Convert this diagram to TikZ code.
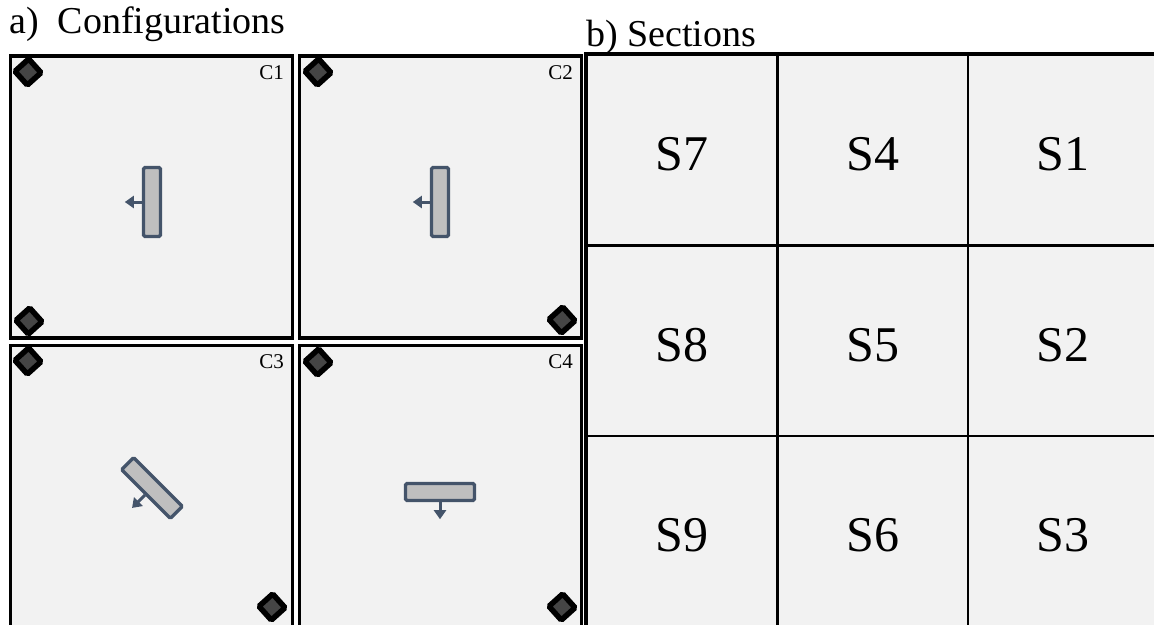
\documentclass[tikz,border=0pt]{standalone}
\usepackage{fontspec}
\setmainfont{Liberation Serif}
\usetikzlibrary{arrows.meta,calc}
\definecolor{panelfill}{HTML}{F2F2F2}
\definecolor{devedge}{HTML}{44546A}
\definecolor{devfill}{HTML}{BFBFBF}
\definecolor{camfill}{HTML}{454545}
\begin{document}
\begin{tikzpicture}[x=1pt,y=-1pt,
  panel/.style={draw=black, line width=3.2pt, fill=panelfill, minimum width=282pt, minimum height=282pt, inner sep=0pt, outer sep=0pt},
  cam/.style={draw=black, fill=camfill, line width=5.5pt, minimum size=18.5pt, rotate=42, inner sep=0pt, rounded corners=1.5pt},
  dev/.style={draw=devedge, fill=devfill, line width=3.4pt, inner sep=0pt, rounded corners=1.5pt},
  devv/.style={dev, minimum width=17pt, minimum height=69pt},
  devh/.style={dev, minimum width=69pt, minimum height=17pt},
  arr/.style={draw=devedge, line width=3pt, -{Triangle[width=12pt,length=9pt]}},
  clabel/.style={font=\fontsize{21}{21}\selectfont, anchor=east, inner sep=0pt},
  cell/.style={draw=black, line width=2.5pt, fill=panelfill, minimum size=190.5pt, inner sep=0pt},
  slabel/.style={font=\fontsize{50}{50}\selectfont, inner sep=0pt, yshift=-4pt},
  title/.style={font=\fontsize{38}{38}\selectfont, anchor=base west, inner sep=0pt}]
\useasboundingbox (0,0) rectangle (1154,624);
\clip (0,0) rectangle (1154,624);
\fill[white] (0,0) rectangle (1154,624);

% titles
\node[title] (ta) at (9,33) {a)\hspace{0.5em}Configurations};
\node[title] (tb) at (586,46) {b) Sections};

% configuration panels
\node[panel] (c1) at (151.5,197) {};
\node[panel] (c2) at (440.5,197) {};
\node[panel] (c3) at (151.5,486.5) {};
\node[panel] (c4) at (440.5,486.5) {};

\node[clabel] (l1) at (284,73) {C1};
\node[clabel] (l2) at (573,73) {C2};
\node[clabel] (l3) at (284,362) {C3};
\node[clabel] (l4) at (573,362) {C4};

% cameras
\node[cam] (k1a) at (28,72) {};
\node[cam] (k1b) at (29,321) {};
\node[cam] (k2a) at (318,72) {};
\node[cam] (k2b) at (562,320) {};
\node[cam] (k3a) at (28,361) {};
\node[cam] (k3b) at (272,607) {};
\node[cam] (k4a) at (318,362) {};
\node[cam] (k4b) at (562,607) {};

% devices
\node[devv] (d1) at (152,202) {};
\node[devv] (d2) at (440,202) {};
\node[devh, rotate=-45] (d3) at (152,488) {};
\node[devh] (d4) at (440,492) {};

\coordinate (a1) at ($(d1.west)!-17pt!(d1.center)$);
\coordinate (a2) at ($(d2.west)!-17pt!(d2.center)$);
\coordinate (a3) at ($(d3.south)!-18pt!(d3.center)$);
\coordinate (a4) at ($(d4.south)!-17pt!(d4.center)$);
\draw[arr] (d1.west) -- (a1);
\draw[arr] (d2.west) -- (a2);
\draw[arr] (d3.south) -- (a3);
\draw[arr] (d4.south) -- (a4);

% sections grid
\node[cell, label={[slabel]center:S7}] (s7) at (682.25,150.25) {};
\node[cell, label={[slabel]center:S4}] (s4) at (872.75,150.25) {};
\node[cell, label={[slabel]center:S1}] (s1) at (1063.25,150.25) {};
\node[cell, label={[slabel]center:S8}] (s8) at (682.25,340.75) {};
\node[cell, label={[slabel]center:S5}] (s5) at (872.75,340.75) {};
\node[cell, label={[slabel]center:S2}] (s2) at (1063.25,340.75) {};
\node[cell, label={[slabel]center:S9}] (s9) at (682.25,531.25) {};
\node[cell, label={[slabel]center:S6}] (s6) at (872.75,531.25) {};
\node[cell, label={[slabel]center:S3}] (s3) at (1063.25,531.25) {};
\draw[line width=3.5pt] (s9.south west) -- (s7.north west) -- (s1.north east);
\end{tikzpicture}
\end{document}
